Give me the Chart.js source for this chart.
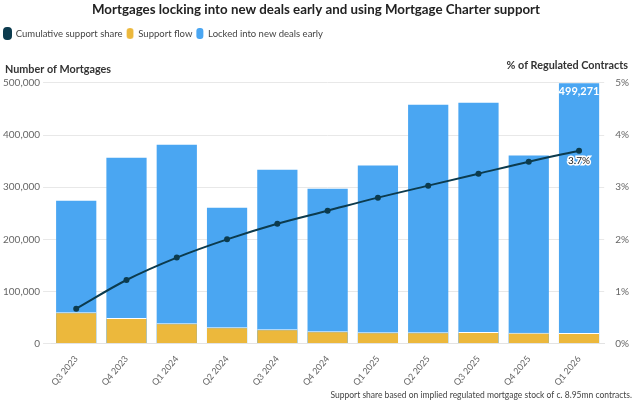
<!DOCTYPE html>
<html>
<head>
<meta charset="utf-8">
<script src="https://cdn.jsdelivr.net/npm/chart.js@4.4.1/dist/chart.umd.min.js"></script>
<style>
  html, body { margin: 0; padding: 0; background: #fff; }
  #wrap { width: 634px; height: 404px; }
</style>
</head>
<body>
<div id="wrap"><canvas id="chart"></canvas></div>
<script>
const quarters = ["Q3 2023", "Q4 2023", "Q1 2024", "Q2 2024", "Q3 2024", "Q4 2024",
  "Q1 2025", "Q2 2025", "Q3 2025", "Q4 2025", "Q1 2026"];
const lockedEarly = [274000, 356500, 381500, 260500, 333500, 297000,
  341800, 458300, 462000, 361000, 499271];
const supportFlow = [60300, 49300, 39100, 31400, 27600, 23800,
  21900, 21500, 22000, 20900, 20500];
const cumulativeShare = [0.67, 1.22, 1.65, 2.0, 2.3, 2.55, 2.8, 3.03, 3.26, 3.49, 3.7];
const leftTicks = [0, 100000, 200000, 300000, 400000, 500000];

const FONT = "Lato, 'Open Sans', sans-serif";
const NAVY = "#0c3b4e";
const YELLOW = "#ecb83c";
const BLUE = "#4aa6f2";

// leave room under the legend for the axis headers
const legendGap = {
  id: "legendGap",
  beforeInit(chart) {
    const fit = chart.legend.fit;
    chart.legend.fit = function () {
      fit.call(this);
      this.height += 34;
    };
  }
};

// axis headers and value labels
const extras = {
  id: "extras",
  afterDraw(chart) {
    const c = chart.ctx;
    c.save();
    c.font = "bold 10.8px " + FONT;
    c.fillStyle = "#333";
    c.textBaseline = "middle";
    c.textAlign = "left";
    c.fillText("Number of Mortgages", 5, 70);
    c.textAlign = "right";
    c.fillText("% of Regulated Contracts", 628, 66);

    const last = quarters.length - 1;
    const bar = chart.getDatasetMeta(2).data[last];
    c.font = "bold 11px " + FONT;
    c.fillStyle = "#fff";
    c.textAlign = "center";
    c.textBaseline = "top";
    c.fillText(lockedEarly[last].toLocaleString("en-GB"), bar.x, bar.y + 3);

    const pt = chart.getDatasetMeta(0).data[last];
    c.font = "10px " + FONT;
    c.lineWidth = 3;
    c.strokeStyle = "#fff";
    c.strokeText(cumulativeShare[last].toFixed(1) + "%", pt.x, pt.y + 5);
    c.fillStyle = "#222";
    c.fillText(cumulativeShare[last].toFixed(1) + "%", pt.x, pt.y + 5);
    c.restore();
  }
};

new Chart(document.getElementById("chart"), {
  data: {
    labels: quarters,
    datasets: [
      {
        type: "line",
        label: "Cumulative support share",
        data: cumulativeShare,
        yAxisID: "y1",
        borderColor: NAVY,
        backgroundColor: NAVY,
        borderWidth: 2,
        pointRadius: 2,
        pointBackgroundColor: NAVY,
        cubicInterpolationMode: "monotone",
        order: 0
      },
      {
        type: "bar",
        label: "Support flow",
        data: supportFlow,
        yAxisID: "y",
        backgroundColor: YELLOW,
        borderColor: "#fff",
        borderWidth: { top: 1, left: 0, right: 0, bottom: 0 },
        borderSkipped: "bottom",
        grouped: false,
        barPercentage: 0.8,
        categoryPercentage: 1,
        order: 1
      },
      {
        type: "bar",
        label: "Locked into new deals early",
        data: lockedEarly,
        yAxisID: "y",
        backgroundColor: BLUE,
        grouped: false,
        barPercentage: 0.8,
        categoryPercentage: 1,
        order: 2
      }
    ]
  },
  options: {
    responsive: true,
    maintainAspectRatio: false,
    animation: false,
    layout: { padding: { left: 0, right: 2, top: 0, bottom: 0 } },
    plugins: {
      title: {
        display: true,
        text: "Mortgages locking into new deals early and using Mortgage Charter support",
        color: "#222",
        font: { family: FONT, size: 13.3, weight: "bold" },
        padding: { top: 2, bottom: 6 }
      },
      legend: {
        align: "start",
        labels: {
          boxWidth: 7,
          boxHeight: 11,
          useBorderRadius: true,
          borderRadius: 3,
          padding: 4,
          color: "#444",
          font: { family: FONT, size: 9.5 }
        }
      },
      subtitle: {
        display: true,
        position: "bottom",
        align: "end",
        text: "Support share based on implied regulated mortgage stock of c. 8.95mn contracts.",
        color: "#444",
        font: { family: FONT, size: 8.5 },
        padding: { top: 0, bottom: 4 }
      },
      tooltip: { enabled: false }
    },
    scales: {
      x: {
        grid: { display: false },
        border: { color: "#e3e3e3" },
        ticks: {
          color: "#666",
          padding: 2,
          minRotation: 50,
          maxRotation: 50,
          font: { family: FONT, size: 9 }
        }
      },
      y: {
        position: "left",
        min: 0,
        max: 500000,
        afterBuildTicks(axis) {
          axis.ticks = leftTicks.map(v => ({ value: v }));
        },
        grid: { color: "#e8e8e8" },
        border: { display: false },
        ticks: {
          color: "#666",
          font: { family: FONT, size: 10 },
          callback: v => v.toLocaleString("en-GB")
        }
      },
      y1: {
        position: "right",
        min: 0,
        max: 5,
        grid: { display: false },
        border: { display: false },
        ticks: {
          stepSize: 1,
          color: "#666",
          font: { family: FONT, size: 10 },
          callback: v => v + "%"
        }
      }
    }
  },
  plugins: [legendGap, extras]
});
</script>
</body>
</html>
